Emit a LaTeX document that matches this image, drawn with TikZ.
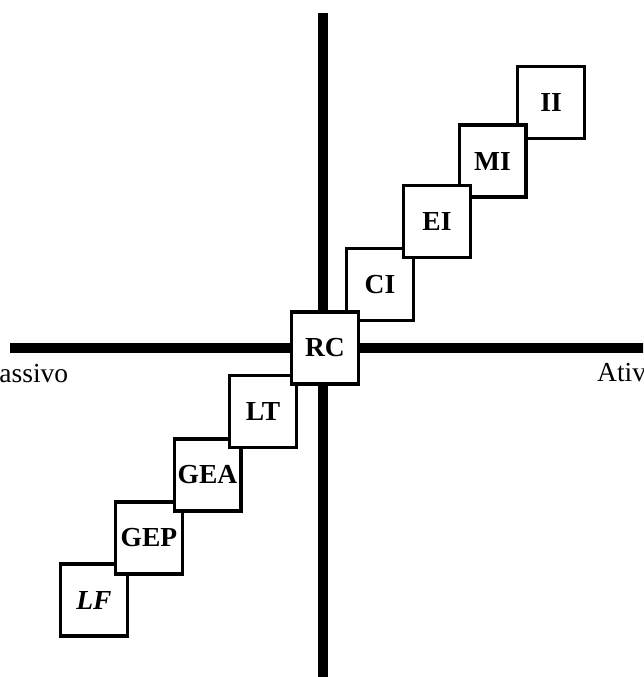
\documentclass[tikz,border=0pt]{standalone}
\usepackage{fontspec}
\setmainfont{Liberation Serif}
\begin{document}
\begin{tikzpicture}[x=1pt,y=-1pt,
  axis/.style={line width=10pt},
  stagebox/.style={draw, fill=white, line width=3.3pt, minimum width=66.7pt, minimum height=72pt, inner sep=0pt,
    font=\fontsize{27.5}{32}\selectfont\bfseries},
  axlabel/.style={anchor=base west, inner sep=0pt, font=\fontsize{27.5}{32}\selectfont}]
\clip (0,0) rectangle (643,677);
\fill[white] (0,0) rectangle (643,677);
% axes
\coordinate (hl) at (10,348);
\coordinate (hr) at (650,348);
\coordinate (vt) at (323,13);
\coordinate (vb) at (323,685);
\draw[axis] (hl) -- (hr);
\draw[axis] (vt) -- (vb);
\node[axlabel] (passivo) at (-16,382) {Passivo};
\node[axlabel] (ativo) at (597,381) {Ativo};
% boxes (drawing order gives the overlaps)
\node[stagebox] (LF) at (94,600) {\textit{LF}};
\node[stagebox] (GEP) at (149,538) {GEP};
\node[stagebox] (GEA) at (207.5,475) {GEA};
\node[stagebox] (LT) at (263,411.5) {LT};
\node[stagebox] (CI) at (380,284.5) {CI};
\node[stagebox] (II) at (551,102.5) {II};
\node[stagebox] (MI) at (492.5,161) {MI};
\node[stagebox] (EI) at (437,221.5) {EI};
\node[stagebox] (RC) at (325,348) {RC};
\end{tikzpicture}
\end{document}
